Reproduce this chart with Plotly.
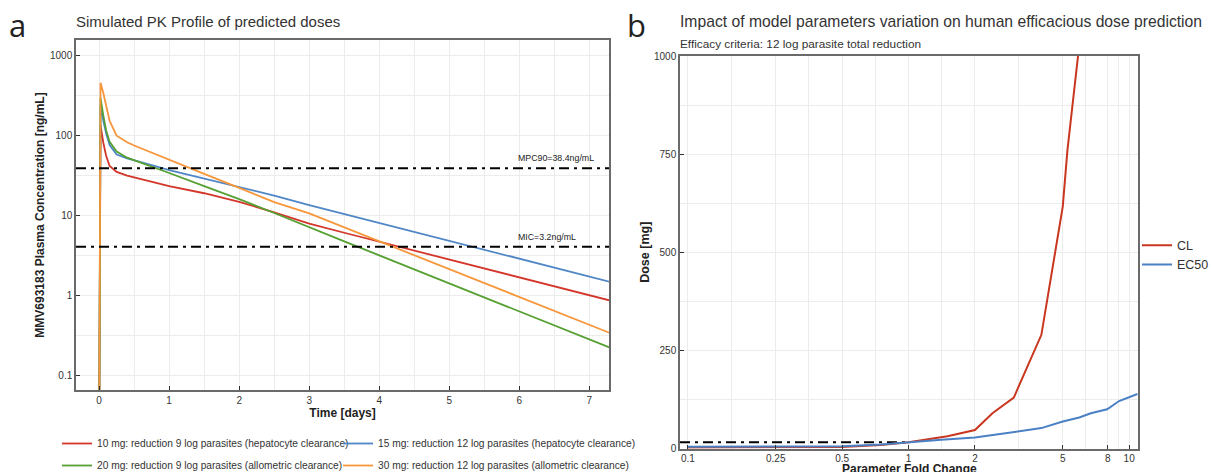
import math
import plotly.graph_objects as go

# ---------------- data: panel a (PK profiles) ----------------
time_days = [0, 0.02, 0.06, 0.1, 0.15, 0.25, 0.4, 0.5, 0.75, 1, 1.5, 2, 2.5, 3,
             3.5, 4, 4.5, 5, 5.5, 6, 6.5, 7, 7.35]
conc_10mg = [0.01, 133, 80, 55, 41, 34.5, 31, 29.5, 26, 23, 18.7, 14.6, 10.8, 7.8,
             6.0, 4.65, 3.6, 2.75, 2.15, 1.65, 1.28, 0.99, 0.83]
conc_15mg = [0.01, 240, 150, 105, 75, 57, 51, 48.5, 42, 36.5, 28.7, 22.6, 17.5, 13.3,
             10.3, 8.0, 6.2, 4.75, 3.7, 2.85, 2.2, 1.7, 1.42]
conc_20mg = [0.01, 290, 175, 115, 82, 62, 52, 48.5, 40, 33.5, 23, 15.8, 10.6, 7.0,
             4.68, 3.13, 2.09, 1.40, 0.94, 0.63, 0.42, 0.28, 0.21]
conc_30mg = [0.01, 450, 335, 230, 150, 98, 81, 74, 60, 48.7, 32.6, 21.8, 14.5, 10.45,
             7.0, 4.7, 3.15, 2.12, 1.42, 0.95, 0.64, 0.43, 0.32]
pk_names = [
    "10 mg: reduction 9 log parasites (hepatocyte clearance)",
    "15 mg: reduction 12 log parasites (hepatocyte clearance)",
    "20 mg: reduction 9 log parasites (allometric clearance)",
    "30 mg: reduction 12 log parasites (allometric clearance)",
]
pk_colors = ["#d3362a", "#4f86c6", "#55a032", "#f7963a"]
mpc90_value = 38.4
mic_line_value = 4.0
mpc90_label = "MPC90=38.4ng/mL"
mic_label = "MIC=3.2ng/mL"
time_ticks = [0, 1, 2, 3, 4, 5, 6, 7]
conc_ticks = [0.1, 1, 10, 100, 1000]
conc_ticktext = ["0.1", "1", "10", "100", "1000"]

# ---------------- data: panel b (dose sensitivity) ----------------
fold_cl = [0.1, 0.25, 0.5, 0.75, 1, 1.5, 2, 2.4, 3, 4, 5, 5.25, 6]
dose_cl = [1, 1.5, 3, 8, 15, 30, 46, 89, 129, 289, 616, 760, 1050]
fold_ec50 = [0.1, 0.25, 0.5, 0.75, 1, 1.41, 2, 3, 4, 5, 5.94, 6.7, 7.95, 9.0, 10.9]
dose_ec50 = [3.5, 3.8, 5, 9, 15, 21, 27, 40, 51, 68, 78, 89, 99, 120, 138]
param_names = ["CL", "EC50"]
param_colors = ["#c9371f", "#4a80c4"]
predicted_dose = 15
fold_ticks = [0.1, 0.25, 0.5, 1, 2, 5, 8, 10]
fold_ticktext = ["0.1", "0.25", "0.5", "1", "2", "5", "8", "10"]
dose_ticks = [0, 250, 500, 750, 1000]

# ---------------- figure ----------------
FONT = "Liberation Sans, Arial, sans-serif"
W, H = 1212, 472


def px(x):
    return x / W


def py(y):
    return 1 - y / H


fig = go.Figure()

# left panel curves, one legend box per entry (2 x 2 grid below the panel)
pk_series = [conc_10mg, conc_15mg, conc_20mg, conc_30mg]
pk_legends = ["legend", "legend3", "legend4", "legend5"]
for name, vals, col, lg in zip(pk_names, pk_series, pk_colors, pk_legends):
    fig.add_trace(go.Scatter(x=time_days, y=vals, mode="lines", name=name,
                             line=dict(color=col, width=1.8),
                             xaxis="x", yaxis="y", legend=lg))

x_left_range = [-0.33, 7.28]
for val in (mpc90_value, mic_line_value):
    fig.add_trace(go.Scatter(x=x_left_range, y=[val, val], mode="lines",
                             line=dict(color="black", width=2, dash="10px,5px,3px,5px"),
                             showlegend=False, hoverinfo="skip",
                             xaxis="x", yaxis="y"))

# right panel curves
fold_range_log = [-1.036, 1.04]
fig.add_trace(go.Scatter(x=[10 ** fold_range_log[0], 1], y=[predicted_dose, predicted_dose],
                         mode="lines", showlegend=False, hoverinfo="skip",
                         line=dict(color="black", width=2, dash="10px,5px,3px,5px"),
                         xaxis="x2", yaxis="y2"))
for name, fx, dy, col in zip(param_names, [fold_cl, fold_ec50], [dose_cl, dose_ec50], param_colors):
    fig.add_trace(go.Scatter(x=fx, y=dy, mode="lines", name=name,
                             line=dict(color=col, width=2),
                             xaxis="x2", yaxis="y2", legend="legend2"))

axis_common = dict(showline=True, mirror=True, linecolor="#6a6a6a", linewidth=1.5,
                   ticks="inside", ticklen=4, tickcolor="#333", tickwidth=1.2,
                   gridcolor="#ececec", gridwidth=1, zeroline=False,
                   tickfont=dict(family=FONT, size=10, color="#333"),
                   automargin=False)

legend_font = dict(family=FONT, size=10.2, color="#333")


def pk_legend(x, y):
    return dict(orientation="h", x=px(x), xanchor="left", y=py(y), yanchor="top",
                bgcolor="rgba(0,0,0,0)", font=legend_font, itemwidth=30)


fig.update_layout(
    width=W, height=H,
    margin=dict(l=0, r=0, t=0, b=0, autoexpand=False),
    paper_bgcolor="white", plot_bgcolor="white",
    font=dict(family=FONT, color="#333"),
    xaxis=dict(domain=[px(76), px(609)], range=x_left_range, tickvals=time_ticks,
               minor=dict(dtick=0.5, tick0=0, showgrid=True, gridcolor="#ececec", ticks=""),
               title=dict(text="<b>Time [days]</b>", font=dict(size=12, color="#222"), standoff=3),
               anchor="y", **axis_common),
    yaxis=dict(domain=[py(390), py(40)], type="log", range=[-1.1875, 3.1875],
               tickvals=conc_ticks, ticktext=conc_ticktext,
               minor=dict(tickvals=[10 ** (k + 0.5) for k in range(-2, 4)], showgrid=True,
                          gridcolor="#ececec", ticks=""),
               title=dict(text="<b>MMV693183 Plasma Concentration [ng/mL]</b>",
                          font=dict(size=12, color="#222"), standoff=3),
               anchor="x", **axis_common),
    xaxis2=dict(domain=[px(680), px(1138)], type="log", range=fold_range_log,
                tickvals=fold_ticks, ticktext=fold_ticktext,
                minor=dict(tickvals=[math.sqrt(a * b) for a, b in zip(fold_ticks[:-1], fold_ticks[1:])],
                           showgrid=True, gridcolor="#ececec", ticks=""),
                anchor="y2", **axis_common),
    yaxis2=dict(domain=[py(448.5), py(56)], range=[-1, 1000], tickvals=dose_ticks,
                minor=dict(dtick=125, tick0=0, showgrid=True, gridcolor="#ececec", ticks=""),
                title=dict(text="<b>Dose [mg]</b>", font=dict(size=12.5, color="#222"), standoff=2),
                anchor="x2", **axis_common),
    legend=pk_legend(57, 429),
    legend3=pk_legend(338, 429),
    legend4=pk_legend(57, 451),
    legend5=pk_legend(338, 451),
    legend2=dict(orientation="v", x=px(1137), xanchor="left", y=py(255), yanchor="middle",
                 bgcolor="rgba(0,0,0,0)", font=dict(family=FONT, size=12.5, color="#333"),
                 itemwidth=30, tracegroupgap=2),
    showlegend=True,
)

annotations = [
    dict(text="a", x=px(7), y=py(25), xref="paper", yref="paper", xanchor="left",
         yanchor="middle", showarrow=False, font=dict(family="Open Sans, sans-serif", size=31, color="#222")),
    dict(text="b", x=px(625), y=py(25), xref="paper", yref="paper", xanchor="left",
         yanchor="middle", showarrow=False, font=dict(family="Open Sans, sans-serif", size=31, color="#222")),
    dict(text="Simulated PK Profile of predicted doses", x=px(74), y=py(22), xref="paper",
         yref="paper", xanchor="left", yanchor="middle", showarrow=False,
         font=dict(family=FONT, size=15, color="#333")),
    dict(text="Impact of model parameters variation on human efficacious dose prediction",
         x=px(678), y=py(22), xref="paper", yref="paper", xanchor="left", yanchor="middle",
         showarrow=False, font=dict(family=FONT, size=15.7, color="#333")),
    dict(text="Efficacy criteria: 12 log parasite total reduction", x=px(678), y=py(44),
         xref="paper", yref="paper", xanchor="left", yanchor="middle", showarrow=False,
         font=dict(family=FONT, size=11.8, color="#333")),
    dict(text="<b>Parameter Fold Change</b>", x=px(909), y=py(468.5), xref="paper", yref="paper",
         xanchor="center", yanchor="middle", showarrow=False,
         font=dict(family=FONT, size=12, color="#222")),
    dict(text=mpc90_label, x=5.95, y=math.log10(mpc90_value), xref="x", yref="y",
         xanchor="left", yanchor="bottom", yshift=3, showarrow=False,
         font=dict(family=FONT, size=8.8, color="#222")),
    dict(text=mic_label, x=5.95, y=math.log10(mic_line_value), xref="x", yref="y",
         xanchor="left", yanchor="bottom", yshift=3, showarrow=False,
         font=dict(family=FONT, size=8.8, color="#222")),
]
fig.update_layout(annotations=annotations)

fig.write_html(
    "out.html",
    config={"displayModeBar": False},
    post_script=("document.documentElement.style.overflow='hidden';"
                 "document.body.style.margin='0';document.body.style.overflow='hidden';"),
)
